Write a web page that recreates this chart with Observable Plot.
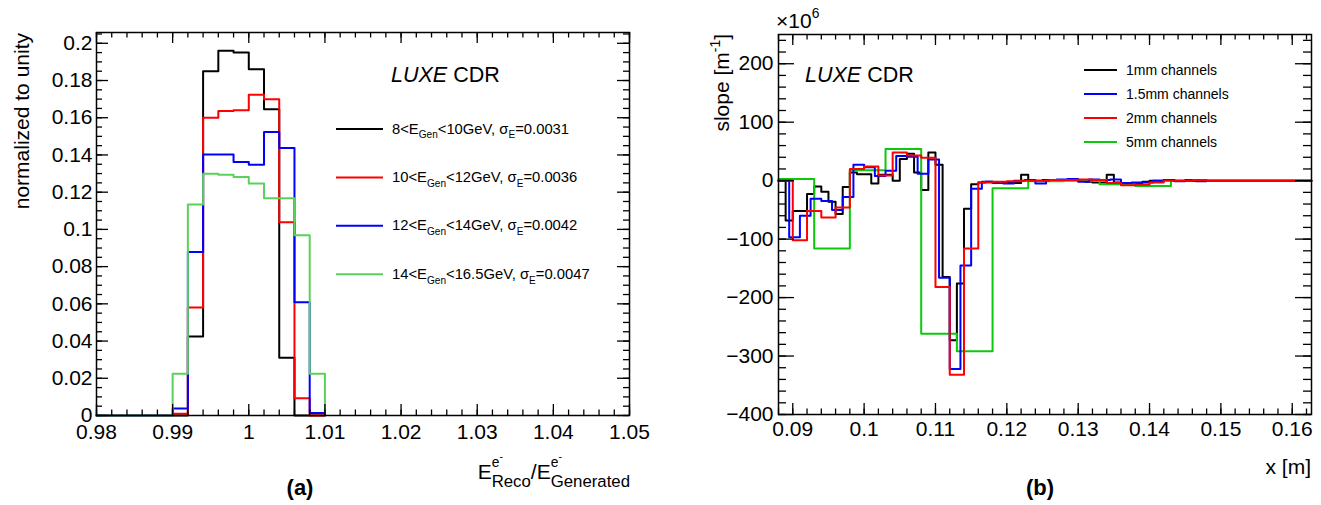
<!DOCTYPE html>
<html><head><meta charset="utf-8">
<script src="https://cdn.jsdelivr.net/npm/d3@7"></script>
<script src="https://cdn.jsdelivr.net/npm/@observablehq/plot@0.6"></script>
<style>
html,body{margin:0;padding:0;background:#fff;}
#wrap{position:relative;width:1321px;height:505px;overflow:hidden;background:#fff;}
.panel{position:absolute;top:0;}
</style></head>
<body><div id="wrap"></div>
<script>
// ---------------- Panel (a): normalized E_reco/E_gen histograms ----------------
const binEdgesA = [0.990, 0.992, 0.994, 0.996, 0.998, 1.000, 1.002, 1.004, 1.006, 1.008];
const binWidthA = 0.002;
const h8to10   = [0.000, 0.0425, 0.185, 0.196, 0.195, 0.186, 0.1645, 0.031, 0.000, 0.000];
const h10to12  = [0.001, 0.058, 0.160, 0.1636, 0.164, 0.1724, 0.170, 0.1038, 0.0093, 0.000];
const h12to14  = [0.0038, 0.0878, 0.1403, 0.1403, 0.1362, 0.1348, 0.1523, 0.1437, 0.0609, 0.0013];
const h14to165 = [0.0224, 0.1134, 0.1299, 0.1294, 0.1281, 0.1246, 0.1168, 0.1168, 0.0968, 0.0224];
const legendA = [
  {lo: "8",  hi: "10",   sigma: "0.0031"},
  {lo: "10", hi: "12",   sigma: "0.0036"},
  {lo: "12", hi: "14",   sigma: "0.0042"},
  {lo: "14", hi: "16.5", sigma: "0.0047"}
];
const xDomainA = [0.98, 1.05];
const yDomainA = [0, 0.2058];
const xTicksA = [0.98, 0.99, 1, 1.01, 1.02, 1.03, 1.04, 1.05];
const yTicksA = [0, 0.02, 0.04, 0.06, 0.08, 0.1, 0.12, 0.14, 0.16, 0.18, 0.2];

// ---------------- Panel (b): slope vs x for several channel widths ----------------
const xDomainB = [0.088, 0.1627];
const yDomainB = [-400, 250];
const xTicksB = [0.09, 0.1, 0.11, 0.12, 0.13, 0.14, 0.15, 0.16];
const yTicksB = [-400, -300, -200, -100, 0, 100, 200];
const seriesNamesB = ["1mm channels", "1.5mm channels", "2mm channels", "5mm channels"];
// channel layout: first channel lower edge and channel width (m)
const ch1mm  = {start: 0.089,  width: 0.001};
const ch15mm = {start: 0.0895, width: 0.0015};
const ch2mm  = {start: 0.090,  width: 0.002};
const ch5mm  = {start: 0.088,  width: 0.005};
// slope values (x10^6 m^-1), one per channel
const slope1mm = [-68, -52, -52, -23, -10, -19, -36, -57, -11, 14,
                  11, 11, -5, 10, 10, 0, 37, 46, 14, -16,
                  48, 27, -165, -273, -176, -48, -6, -3, -2, -3,
                  -4, -4, -4, 10, 0, 0, 1, 1, 0, 1,
                  1, 0, -2, -3, -3, 10, -3, -5, -5, -4,
                  -2, 0, 0, 1, 0, 0, 1, 0, 0, 0];
const slope15mm = [-97, -60, -31, -35, -50, -28, 27, 23, 8, 17,
                   42, 41, 12, 36, -166, -322, -145, -14, -2, -4,
                   -5, 0, 1, -5, 1, 2, 3, -2, 2, 1,
                   2, -4, -3, -3, 0, 1, -1, 0, -1, 0];
const slope2mm = [-102, -52, -63, -46, 20, 24, 9, 48, 43, 39,
                  -182, -332, -116, -3, -2, -1, 0, 0, 1, 1,
                  2, 1, -4, -8, -7, -3, 0, 0, 1, 0];
const slope5mm = [3, -116, 18, 54, -262, -292, -13, -1, 0, -6, -9, 0, 0, 0];

// ---------------- helpers ----------------
const FONT = "'Liberation Sans', Arial, Helvetica, sans-serif";
const fmtNum = d => { const s = String(+(+d).toFixed(4)); return s.startsWith("-") ? "\u2212" + s.slice(1) : s; };

function histPoints(edges, width, vals, x0, x1) {
  const pts = [{x: x0, y: 0}];
  vals.forEach((v, i) => pts.push({x: edges[i], y: v}));
  pts.push({x: edges[vals.length - 1] + width, y: 0});
  pts.push({x: x1, y: 0});
  return pts;
}
function channelPoints(ch, vals, x0, x1) {
  const edges = vals.map((_, i) => ch.start + i * ch.width);
  return histPoints(edges, ch.width, vals, x0, x1);
}
function tickMarks(xMaj, xMin, yMaj, yMin, fw, fh, lx, ly) {
  const st = {stroke: "#000", strokeWidth: 1.3};
  return [
    Plot.ruleX(xMaj, {x: d => d, insetTop: fh - lx, ...st}),
    Plot.ruleX(xMaj, {x: d => d, insetBottom: fh - lx, ...st}),
    Plot.ruleX(xMin, {x: d => d, insetTop: fh - lx / 2, ...st}),
    Plot.ruleX(xMin, {x: d => d, insetBottom: fh - lx / 2, ...st}),
    Plot.ruleY(yMaj, {y: d => d, insetRight: fw - ly, ...st}),
    Plot.ruleY(yMaj, {y: d => d, insetLeft: fw - ly, ...st}),
    Plot.ruleY(yMin, {y: d => d, insetRight: fw - ly / 2, ...st}),
    Plot.ruleY(yMin, {y: d => d, insetLeft: fw - ly / 2, ...st})
  ];
}
// rich text: runs of {t, s (scale), dy (em, +down), italic, bold} or {stack: [[runs],[runs]]}
function rich(svg, runs, o) {
  const g = d3.select(svg).append("g");
  const inner = g.append("g");
  const put = (seq, x0) => {
    let x = x0;
    for (const r of seq) {
      const t = inner.append("text")
        .attr("x", x).attr("y", (r.dy || 0) * o.size)
        .attr("text-anchor", "start")
        .attr("font-family", FONT)
        .attr("font-size", (r.s || 1) * o.size)
        .attr("font-style", r.italic ? "italic" : "normal")
        .attr("font-weight", (r.bold || o.bold) ? "bold" : "normal")
        .attr("fill", "#000")
        .style("white-space", "pre")
        .text(r.t);
      x += t.node().getComputedTextLength();
    }
    return x - x0;
  };
  let cx = 0;
  for (const r of runs) {
    if (r.stack) { let w = 0; for (const s of r.stack) w = Math.max(w, put(s, cx)); cx += w; }
    else cx += put([r], cx);
  }
  const shift = o.anchor === "end" ? -cx : o.anchor === "middle" ? -cx / 2 : 0;
  inner.attr("transform", `translate(${shift},0)`);
  g.attr("transform", `translate(${o.x},${o.y})` + (o.rotate ? ` rotate(${o.rotate})` : ""));
}
function legendLine(svg, x1, x2, y, color) {
  d3.select(svg).append("line").attr("x1", x1).attr("x2", x2).attr("y1", y).attr("y2", y)
    .attr("stroke", color).attr("stroke-width", 2);
}

const wrap = document.getElementById("wrap");
function mount(svg, left, width) {
  const div = document.createElement("div");
  div.className = "panel";
  div.style.left = left + "px";
  div.style.width = width + "px";
  div.style.height = "505px";
  div.appendChild(svg);
  wrap.appendChild(div);
}

// ---------------- Panel (a) ----------------
const colorsA = ["#000000", "#ff0000", "#0000ff", "#5ad25a"];
const histsA = [h8to10, h10to12, h12to14, h14to165];
{
  const W = 660, mL = 96, mR = 31, mT = 32, mB = 90;
  const fw = W - mL - mR, fh = 505 - mT - mB;
  const xMin = d3.range(490, 526).map(k => k * 0.002);
  const yMin = d3.range(0, 42).map(k => k * 0.005);
  const svg = Plot.plot({
    width: W, height: 505,
    marginLeft: mL, marginRight: mR, marginTop: mT, marginBottom: mB,
    style: {fontFamily: FONT, fontSize: "21px", background: "transparent", color: "#000", overflow: "visible"},
    x: {domain: xDomainA, ticks: xTicksA, tickFormat: fmtNum, tickSize: 0, tickPadding: 9, label: null},
    y: {domain: yDomainA, ticks: yTicksA, tickFormat: fmtNum, tickSize: 0, tickPadding: 4, label: null},
    marks: [
      ...histsA.map((h, i) => Plot.line(histPoints(binEdgesA, binWidthA, h, xDomainA[0], binEdgesA[binEdgesA.length - 1] + binWidthA),
        {x: "x", y: "y", curve: "step-after", stroke: colorsA[i], strokeWidth: 2})),
      Plot.frame({stroke: "#000", strokeWidth: 1.5}),
      ...tickMarks(xTicksA, xMin, yTicksA, yMin, fw, fh, 11, 12)
    ]
  });
  mount(svg, 0, W);
  rich(svg, [{t: "LUXE", italic: true}, {t: " CDR"}], {x: 391, y: 82, size: 21.5});
  legendA.forEach((e, i) => {
    const yc = 129 + i * 48.4;
    legendLine(svg, 336, 383, yc, colorsA[i]);
    rich(svg, [
      {t: e.lo + "<E"}, {t: "Gen", s: 0.68, dy: 0.33},
      {t: "<" + e.hi + "GeV, σ"}, {t: "E", s: 0.68, dy: 0.33},
      {t: "=" + e.sigma}
    ], {x: 392, y: yc + 4.5, size: 14.8});
  });
  rich(svg, [{t: "normalized to unity"}], {x: 29, y: 33, size: 21, rotate: -90, anchor: "end"});
  const sup = [{t: "e", s: 0.66, dy: -0.55}, {t: "-", s: 0.5, dy: -0.9}];
  rich(svg, [
    {t: "E"}, {stack: [sup, [{t: "Reco", s: 0.8, dy: 0.4}]]},
    {t: "/E"}, {stack: [sup, [{t: "Generated", s: 0.8, dy: 0.4}]]}
  ], {x: 630, y: 479, size: 21, anchor: "end"});
  rich(svg, [{t: "(a)"}], {x: 300, y: 495, size: 22, bold: true, anchor: "middle"});
}

// ---------------- Panel (b) ----------------
const colorsB = ["#000000", "#0000ff", "#ff0000", "#0dc80d"];
{
  const W = 661, mL = 118, mR = 10, mT = 34, mB = 91;
  const fw = W - mL - mR, fh = 505 - mT - mB;
  const xMin = d3.range(44, 82).map(k => k * 0.002);
  const yMin = d3.range(-20, 13).map(k => k * 20);
  const chans = [ch1mm, ch15mm, ch2mm, ch5mm];
  const vals = [slope1mm, slope15mm, slope2mm, slope5mm];
  const drawOrder = [0, 3, 1, 2];
  const svg = Plot.plot({
    width: W, height: 505,
    marginLeft: mL, marginRight: mR, marginTop: mT, marginBottom: mB,
    style: {fontFamily: FONT, fontSize: "21px", background: "transparent", color: "#000", overflow: "visible"},
    x: {domain: xDomainB, ticks: xTicksB, tickFormat: fmtNum, tickSize: 0, tickPadding: 7, label: null},
    y: {domain: yDomainB, ticks: yTicksB, tickFormat: fmtNum, tickSize: 0, tickPadding: 5, label: null},
    marks: [
      ...drawOrder.map(i => Plot.line(channelPoints(chans[i], vals[i], xDomainB[0], xDomainB[1]),
        {x: "x", y: "y", curve: "step-after", stroke: colorsB[i], strokeWidth: 2})),
      Plot.frame({stroke: "#000", strokeWidth: 1.5}),
      ...tickMarks(xTicksB, xMin, yTicksB, yMin, fw, fh, 11, 16)
    ]
  });
  mount(svg, 660, W);
  const ox = 660;
  rich(svg, [{t: "LUXE", italic: true}, {t: " CDR"}], {x: 805 - ox, y: 82, size: 21.5});
  seriesNamesB.forEach((name, i) => {
    const yc = 70 + i * 24;
    legendLine(svg, 1084 - ox, 1117 - ox, yc, colorsB[i]);
    rich(svg, [{t: name}], {x: 1126 - ox, y: yc + 5, size: 14});
  });
  rich(svg, [{t: "×10"}, {t: "6", s: 0.66, dy: -0.5}], {x: 776 - ox, y: 28, size: 21});
  rich(svg, [{t: "slope [m"}, {t: "-1", s: 0.66, dy: -0.45}, {t: "]"}], {x: 729 - ox, y: 34, size: 21, rotate: -90, anchor: "end"});
  rich(svg, [{t: "x [m]"}], {x: 1311 - ox, y: 474, size: 21, anchor: "end"});
  rich(svg, [{t: "(b)"}], {x: 1040 - ox, y: 495, size: 22, bold: true, anchor: "middle"});
}
</script>
</body></html>
